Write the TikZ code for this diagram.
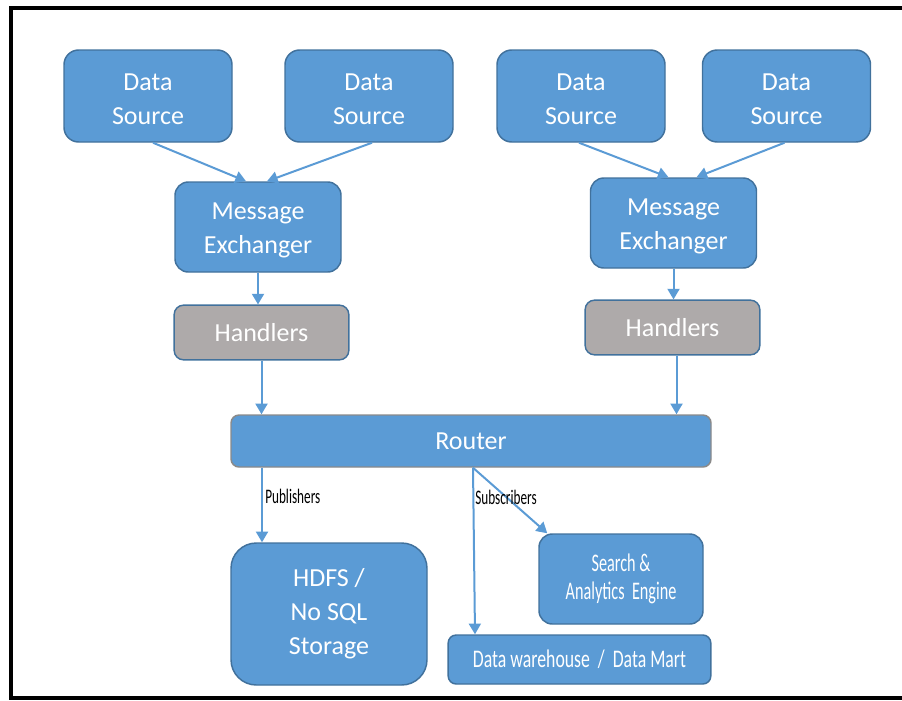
\documentclass[tikz,border=0pt]{standalone}
\usepackage{fontspec}
\setmainfont{Carlito}
\newfontfamily\condfont[FakeStretch=0.64]{Carlito}
\newfontfamily\condwide[FakeStretch=0.7]{Carlito}
\newcommand\upstrut{\rule{0pt}{17.5pt}}
\usetikzlibrary{arrows.meta,calc}
\definecolor{boxblue}{HTML}{5B9BD5}
\definecolor{edgeblue}{HTML}{41719C}
\definecolor{boxgray}{HTML}{AEAAAA}
\definecolor{edgegray}{HTML}{8A8A8A}
\definecolor{arrblue}{HTML}{5B9BD5}
\begin{document}
\begin{tikzpicture}[x=0.75pt,y=-0.75pt,
  base/.style={draw=edgeblue, line width=1.1pt, fill=boxblue, text=white, align=center,
    inner sep=0pt, font=\fontsize{19.5}{25.5}\selectfont},
  srcbox/.style={base, minimum width=126pt, minimum height=69pt, rounded corners=11pt},
  mebox/.style={base, minimum width=124.5pt, minimum height=67.5pt, rounded corners=10pt},
  hdlbox/.style={base, fill=boxgray, minimum width=131pt, minimum height=41pt, rounded corners=7pt},
  condbox/.style={base, font=\condfont\fontsize{19}{20.5}\selectfont},
  lab/.style={inner sep=0pt, text=black, font=\condfont\fontsize{15.5}{16}\selectfont},
  arr/.style={draw=arrblue, line width=1.5pt, -{Triangle[length=8pt,width=9pt]}}
]
\useasboundingbox (0,0) rectangle (902,700);
\draw[line width=2.4pt] (910,8) -- (11,8) -- (11,698) -- (910,698);

% data sources
\node[srcbox] (ds1) at (148,96) {\upstrut Data\\Source};
\node[srcbox] (ds2) at (369,96) {\upstrut Data\\Source};
\node[srcbox] (ds3) at (581,96) {\upstrut Data\\Source};
\node[srcbox] (ds4) at (786.5,96) {\upstrut Data\\Source};

% message exchangers
\node[mebox] (me1) at (258,227) {\upstrut Message\\Exchanger};
\node[mebox] (me2) at (673.5,223) {\upstrut Message\\Exchanger};

% handlers
\node[hdlbox] (h1) at (261.5,332.5) {Handlers};
\node[hdlbox] (h2) at (672.5,327.5) {Handlers};

% router
\node[base, draw=edgegray, minimum width=360pt, minimum height=39pt, rounded corners=6pt] (router) at (471,441) {Router};

% sinks
\node[base, minimum width=147pt, minimum height=106.5pt, rounded corners=19pt] (hdfs) at (329,614) {HDFS /\\No SQL\\Storage};
\node[condbox, minimum width=123pt, minimum height=67.5pt, rounded corners=10pt] (search) at (621,579) {Search \&\\Analytics~ Engine};
\node[condbox, font=\condwide\fontsize{19}{20.5}\selectfont, minimum width=197pt, minimum height=36.75pt, rounded corners=6pt] (dw) at (579.5,659.5) {Data warehouse~ /~ Data Mart};

% connectors
\draw[arr] ($(ds1.south)+(5,0)$) -- ($(me1.north)+(-12,0)$);
\draw[arr] ($(ds2.south)+(3,0)$) -- ($(me1.north)+(9,0)$);
\draw[arr] ($(ds3.south)+(-2,0)$) -- ($(me2.north)+(-5,0)$);
\draw[arr] ($(ds4.south)+(-2,0)$) -- ($(me2.north)+(23,0)$);

\draw[arr] (me1.south) -- (h1.north -| me1.south);
\draw[arr] (me2.south) -- (h2.north -| me2.south);
\coordinate (h2out) at ($(h2.south)+(4,0)$);
\draw[arr] (h1.south) -- (router.north -| h1.south);
\draw[arr] (h2out) -- (router.north -| h2out);

\coordinate (hdfsin) at ($(hdfs.north)+(-67,0)$);
\draw[arr] (router.south -| hdfsin) -- (hdfsin);
\coordinate (subout) at ($(router.south)+(2,0)$);
\draw[arr] (subout) -- ($(dw.north)+(-104.5,0)$);
\draw[arr] (subout) -- ($(search.north west)+(9,0)$);

\node[lab, anchor=west] (pub) at (265,496) {Publishers};
\node[lab, anchor=west] (sub) at (475,497) {Subscribers};
\end{tikzpicture}
\end{document}
